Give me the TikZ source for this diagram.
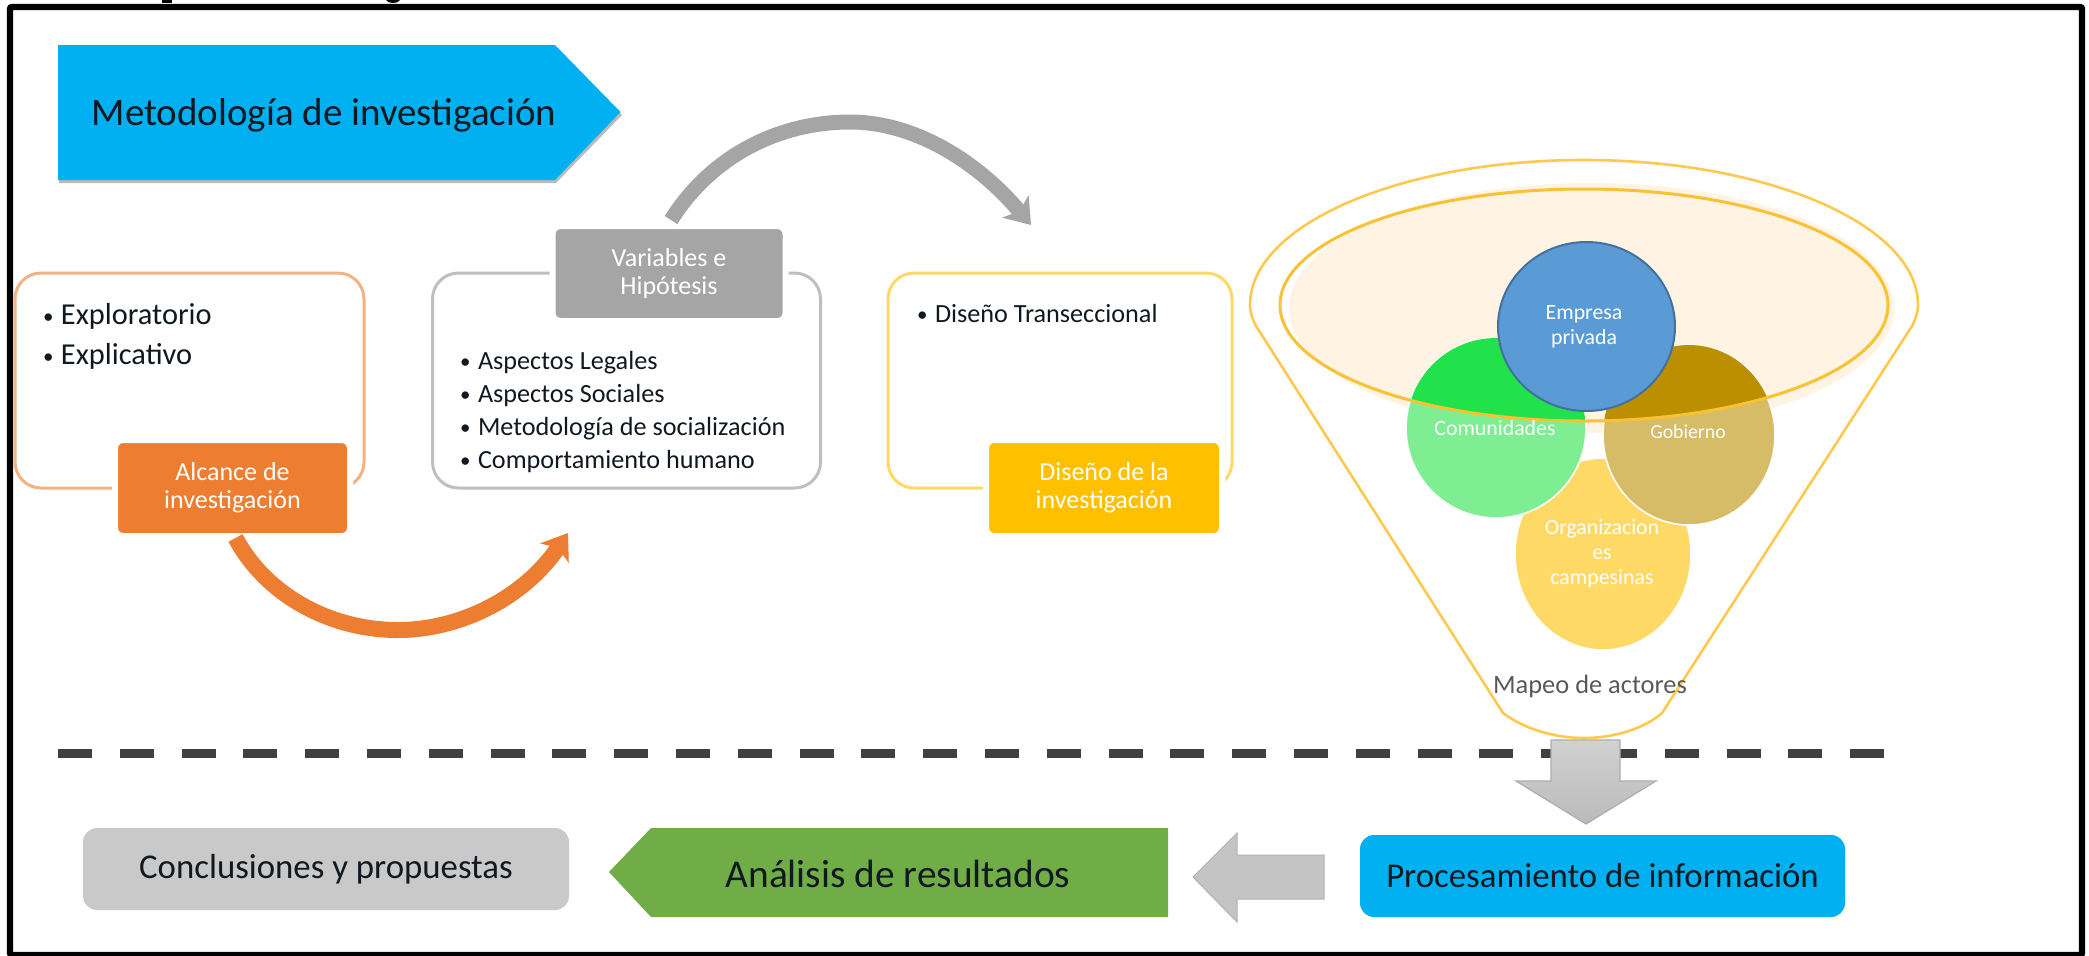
\documentclass[tikz,border=0pt]{standalone}
\usepackage{fontspec}
\setmainfont{Carlito}
\usetikzlibrary{arrows.meta,shapes.geometric}
\definecolor{skyb}{HTML}{00B0F0}
\definecolor{orng}{HTML}{ED7D31}
\definecolor{orngl}{HTML}{F4B183}
\definecolor{grayc}{HTML}{A5A5A5}
\definecolor{grayl}{HTML}{BFBFBF}
\definecolor{yell}{HTML}{FFC000}
\definecolor{yelll}{HTML}{FFD966}
\definecolor{funl}{HTML}{FDC94E}
\definecolor{ringc}{HTML}{F9C234}
\definecolor{peach}{HTML}{FFF3E4}
\definecolor{bluec}{HTML}{5B9BD5}
\definecolor{bluel}{HTML}{41719C}
\definecolor{grn}{HTML}{70AD47}
\definecolor{inkk}{HTML}{101820}
\definecolor{greenl}{HTML}{7FEE92}
\definecolor{greend}{HTML}{22E24B}
\definecolor{goldl}{HTML}{D6BC66}
\definecolor{goldd}{HTML}{BC8F00}
\newcommand{\bul}[1]{\makebox[#1][l]{\raisebox{.4pt}{\fontsize{10.5}{10}\selectfont •}}}
\tikzset{
  every node/.style={inner sep=0pt,outer sep=0pt},
  card/.style={rectangle,rounded corners=13pt,line width=1.5pt,fill=white},
  tag/.style={rectangle,rounded corners=4pt,draw=white,line width=3pt,text=white,align=center,font=\fontsize{13}{14}\selectfont},
  item/.style={anchor=base west,text=inkk,font=\fontsize{13.1}{16}\selectfont},
  bigitem/.style={anchor=base west,text=inkk,font=\fontsize{15.2}{16}\selectfont},
  blob/.style={ellipse,draw=white,line width=.8pt},
  blobtext/.style={text=white,align=center,font=\fontsize{10.9}{12.5}\selectfont},
  curvearrow/.style={line width=7.5pt},
}
\begin{document}
\begin{tikzpicture}[x=0.5pt,y=-0.5pt]
\useasboundingbox (0,0) rectangle (2089,955);
\fill[white] (0,0) rectangle (2089,955);
% frame
\begin{scope}
\clip (0,0) rectangle (2089,955);
\fill[black] (162,0) rectangle (172,3);
\fill[black] (386,0) .. controls (388,4) and (398,4) .. (400,0) -- cycle;
\draw[black,line width=3.2pt,rounded corners=1pt] (10,7) rectangle (2082,955);
\end{scope}
% title
\fill[black!45,opacity=.6] (59,48) -- (556,48) -- (622,115) -- (556,183) -- (59,183) -- cycle;
\fill[skyb] (58,45) -- (555,45) -- (620.5,112) -- (555,180) -- (58,180) -- cycle;
\node[text=inkk,font=\fontsize{19.5}{20}\selectfont] (title) at (324,115) {Metodología de investigación};
% cards
\node[card,draw=orngl,minimum width=174.5pt,minimum height=107.5pt] (c1) at (189.5,380.5) {};
\node[card,draw=grayl,minimum width=194pt,minimum height=107.5pt] (c2) at (626.5,380.5) {};
\node[card,draw=yelll,minimum width=172pt,minimum height=107.5pt] (c3) at (1060,380.5) {};
% tags
\node[tag,fill=orng,minimum width=117.5pt,minimum height=48pt] (alcance) at (232.5,488) {Alcance de\\investigación};
\node[tag,fill=grayc,minimum width=116.5pt,minimum height=47.5pt] (variables) at (669,273.5) {Variables e\\Hipótesis};
\node[tag,fill=yell,minimum width=118pt,minimum height=48pt] (diseno) at (1104,488) {Diseño de la\\investigación};
% bullets
\node[bigitem] (b1) at (43,324) {\bul{9pt}Exploratorio};
\node[bigitem] (b2) at (43,364) {\bul{9pt}Explicativo};
\node[item] (b3) at (460,369) {\bul{9pt}Aspectos Legales};
\node[item] (b4) at (460,402) {\bul{9pt}Aspectos Sociales};
\node[item] (b5) at (460,435) {\bul{9pt}Metodología de socialización};
\node[item] (b6) at (460,468) {\bul{9pt}Comportamiento humano};
\node[item] (b7) at (917,322) {\bul{9pt}Diseño Transeccional};
% curved arrows
\coordinate (oend) at (568,533);
\coordinate (gend) at (1031,225);
\draw[curvearrow,line width=8pt,orng,-{Stealth[length=12pt,width=17pt,inset=3pt]}] (alcance.south) ++(3,2) .. controls (266,595) and (330,630) .. (398,630) .. controls (460,630) and (524,598) .. (oend);
\draw[curvearrow,grayc,-{Stealth[length=12pt,width=17pt,inset=3pt]}] (variables.north) ++(2,-6) .. controls (712,155) and (780,122) .. (850,122) .. controls (915,122) and (978,162) .. (gend);
% funnel
\draw[funl,line width=1.3pt] (1256,326) .. controls (1252,318) and (1250,312) .. (1250,305)
  .. controls (1250,225) and (1400,160) .. (1584,160)
  .. controls (1768,160) and (1918,225) .. (1918,305)
  .. controls (1918,312) and (1916,318) .. (1912,326)
  -- (1662,713) .. controls (1645,728) and (1615,738) .. (1584,738)
  .. controls (1553,738) and (1523,728) .. (1503,713) -- cycle;
\fill[peach] (1591.5,308) ellipse [x radius=302.5,y radius=125];
\node[blob,fill=yelll,minimum width=88pt,minimum height=96pt] (org) at (1603,554) {};
\node[blob,fill=greenl,minimum width=90pt,minimum height=90pt] (com) at (1496,428) {};
\node[blob,fill=goldl,minimum width=86pt,minimum height=90pt] (gob) at (1689,435) {};
\begin{scope}
\clip (1584,305) ellipse [x radius=304,y radius=116];
\fill[greend] (1496,428) ellipse [x radius=89.5,y radius=90];
\fill[goldd] (1689,435) ellipse [x radius=86,y radius=90];
\end{scope}
\draw[ringc,line width=1.5pt] (1584,305) ellipse [x radius=304,y radius=116];
\node[ellipse,fill=bluec,draw=bluel,line width=1pt,minimum width=88.5pt,minimum height=84.5pt] (emp) at (1586.5,326.5) {};
\node[blobtext] (t1) at (1584,327) {Empresa\\privada};
\node[blobtext] (t2) at (1495,428) {Comunidades};
\node[blobtext,font=\fontsize{9.9}{13}\selectfont] (t3) at (1688,432) {Gobierno};
\node[blobtext] (t4) at (1602,554) {Organizacion\\es\\campesinas};
\node[text=black!65,font=\fontsize{13.2}{16}\selectfont] (mapeo) at (1590,686) {Mapeo de actores};
% dashed divider
\coordinate (da) at (58,753.5);
\coordinate (db) at (1886,753.5);
\draw[black!75,line width=4.5pt,dash pattern=on 17pt off 13.9pt] (da) -- (db);
% down arrow
\path[shade,top color=black!18,bottom color=black!27,draw=black!32,line width=.6pt]
  (1551,740) -- (1620,740) -- (1620,781) -- (1656,781) -- (1586,824) -- (1516,781) -- (1551,781) -- cycle;
% bottom row
\node[rectangle,rounded corners=7pt,fill=skyb,minimum width=242.5pt,minimum height=41pt,text=inkk,font=\fontsize{17.4}{18}\selectfont] (proc) at (1602.5,876) {Procesamiento de información};
\fill[black!23,draw=black!30,line width=.5pt] (1324,855) -- (1237,855) -- (1237,833) -- (1193,877) -- (1237,922) -- (1237,899) -- (1324,899) -- cycle;
\fill[grn] (1168,828) -- (651,828) -- (609,872) -- (651,917) -- (1168,917) -- cycle;
\node[text=inkk,font=\fontsize{19.7}{20}\selectfont] (ana) at (898,874) {Análisis de resultados};
\node[rectangle,rounded corners=7pt,fill=black!21,minimum width=243pt,minimum height=41pt,text=inkk,font=\fontsize{17.4}{18}\selectfont] (conc) at (326,869) {Conclusiones y propuestas};
\end{tikzpicture}
\end{document}
